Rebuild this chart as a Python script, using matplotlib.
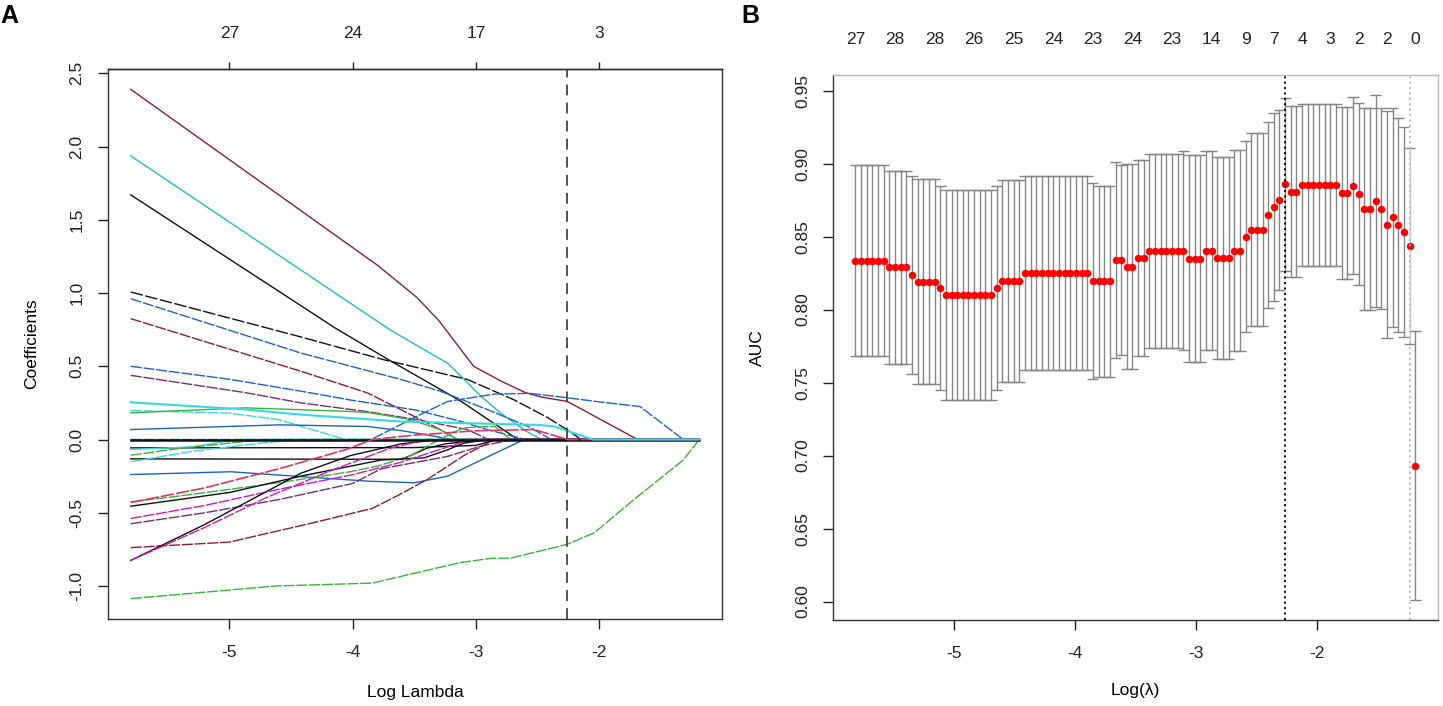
import matplotlib
matplotlib.use('Agg')
import matplotlib.pyplot as plt
import numpy as np

plt.rcParams['font.family'] = ['Liberation Sans', 'DejaVu Sans']
plt.rcParams['axes.unicode_minus'] = False

# ---------------- Panel A : coefficient paths (log lambda, coefficient) knots ----------------
loglam_first, loglam_last = -5.80, -1.19
xticks_A = [-5, -4, -3, -2]
top_labels_A = ['27', '24', '17', '3']
yticks_A = [2.5, 2.0, 1.5, 1.0, 0.5, 0.0, -0.5, -1.0]

p01 = [(-5.80, 2.39), (-3.80, 1.19), (-3.48, 0.97), (-3.30, 0.81), (-3.02, 0.50), (-2.80, 0.40),
       (-2.60, 0.32), (-2.47, 0.29), (-2.26, 0.26), (-1.69, 0.0)]
p02 = [(-5.80, 1.936), (-3.70, 0.75), (-3.23, 0.52), (-3.12, 0.43), (-2.96, 0.295), (-2.80, 0.18),
       (-2.60, 0.06), (-2.47, 0.0)]
p03 = [(-5.80, 1.67), (-4.14, 0.76), (-3.71, 0.545), (-3.12, 0.26), (-2.66, 0.0)]
p04 = [(-5.80, 1.007), (-4.42, 0.70), (-3.75, 0.545), (-3.07, 0.41), (-2.69, 0.27), (-2.42, 0.15),
       (-2.23, 0.05), (-2.15, 0.0)]
p05 = [(-5.80, 0.961), (-4.42, 0.59), (-3.61, 0.41), (-3.29, 0.33), (-2.91, 0.205), (-2.58, 0.09),
       (-2.39, 0.0)]
p06 = [(-5.80, 0.825), (-4.42, 0.466), (-3.88, 0.318), (-3.53, 0.17), (-3.29, 0.068), (-3.15, 0.0)]
p07 = [(-5.80, 0.50), (-4.99, 0.41), (-4.42, 0.33), (-4.02, 0.27), (-3.48, 0.20), (-3.12, 0.123),
       (-2.91, 0.068), (-2.60, 0.0)]
p08 = [(-5.80, 0.438), (-4.87, 0.32), (-4.42, 0.25), (-3.88, 0.19), (-3.48, 0.136), (-3.07, 0.068),
       (-2.90, 0.0)]
p09 = [(-5.80, 0.254), (-4.87, 0.205), (-4.42, 0.17), (-3.61, 0.123), (-3.00, 0.11), (-2.50, 0.10),
       (-2.37, 0.09), (-2.05, 0.0)]
p10 = [(-5.80, 0.198), (-5.00, 0.18), (-4.60, 0.136), (-4.30, 0.06), (-4.06, 0.0)]
p11 = [(-5.80, 0.182), (-4.87, 0.216), (-4.06, 0.193), (-3.88, 0.185), (-3.53, 0.136), (-3.30, 0.07),
       (-3.15, 0.0)]
p12 = [(-5.80, 0.068), (-4.60, 0.10), (-3.88, 0.089), (-3.60, 0.06), (-3.34, 0.023), (-3.20, 0.0)]
p13 = [(-5.80, -0.057), (-3.50, -0.055), (-3.00, -0.04), (-2.83, 0.0)]
p14 = [(-5.80, -0.068), (-5.30, -0.05), (-5.05, -0.015), (-4.87, 0.0)]
p15 = [(-5.80, -0.107), (-5.40, -0.06), (-4.95, -0.02), (-4.70, 0.0)]
p16 = [(-5.80, -0.132), (-3.60, -0.135), (-3.40, -0.06), (-3.25, -0.03), (-2.95, 0.0)]
p17 = [(-5.80, -0.152), (-5.30, -0.08), (-4.70, -0.02), (-4.40, 0.0)]
p18 = [(-5.80, -0.239), (-4.99, -0.22), (-3.88, -0.284), (-3.50, -0.295), (-3.23, -0.25),
       (-2.96, -0.14), (-2.61, 0.0)]
p19 = [(-5.80, -0.425), (-5.41, -0.386), (-4.60, -0.295), (-4.02, -0.22), (-3.79, -0.18),
       (-3.53, -0.11), (-3.30, 0.0), (-3.10, 0.08), (-2.85, 0.09), (-2.72, 0.0)]
p20 = [(-5.80, -0.455), (-5.41, -0.41), (-4.99, -0.36), (-4.42, -0.25), (-3.77, -0.14),
       (-3.42, -0.125), (-3.23, -0.07), (-3.10, -0.025), (-2.91, 0.0)]
p21 = [(-5.80, -0.539), (-5.20, -0.45), (-4.60, -0.34), (-4.00, -0.24), (-3.63, -0.16),
       (-3.30, -0.07), (-3.05, 0.0)]
p22 = [(-5.80, -0.575), (-5.20, -0.50), (-4.60, -0.41), (-4.00, -0.30), (-3.77, -0.20),
       (-3.23, -0.115), (-2.96, -0.045), (-2.70, 0.0)]
p23 = [(-5.80, -0.738), (-5.00, -0.70), (-4.33, -0.57), (-3.84, -0.47), (-3.63, -0.38),
       (-3.39, -0.27), (-3.10, -0.11), (-2.85, 0.0)]
p24 = [(-5.80, -0.825), (-5.20, -0.58), (-4.71, -0.36), (-4.42, -0.23), (-4.02, -0.11),
       (-3.61, -0.03), (-3.30, 0.0)]
p25 = [(-5.80, -0.825), (-5.20, -0.60), (-4.71, -0.40), (-4.20, -0.22), (-3.70, -0.06), (-3.40, 0.0)]
p26 = [(-5.80, -1.086), (-4.63, -1.00), (-3.84, -0.98), (-3.13, -0.84), (-2.87, -0.81),
       (-2.72, -0.81), (-2.26, -0.715), (-2.04, -0.636), (-1.72, -0.41), (-1.32, -0.14), (-1.19, 0.0)]
p27 = [(-5.80, 0.0), (-3.85, 0.0), (-3.50, 0.15), (-3.23, 0.26), (-2.85, 0.31), (-2.56, 0.315),
       (-2.26, 0.285), (-1.98, 0.255), (-1.67, 0.225), (-1.32, 0.0)]
p28 = [(-5.80, -0.43), (-5.20, -0.33), (-4.60, -0.20), (-4.06, -0.07), (-3.84, 0.0), (-3.50, 0.03),
       (-3.00, 0.06), (-2.53, 0.068), (-2.26, 0.0)]
p_zero = [(-5.80, 0.0), (-1.19, 0.0)]

# ---------------- Panel B : cross-validated AUC ----------------
loglam_B_range = (-5.81, -1.19)
n_lambda = 100
auc_mean = [
    0.8336, 0.8336, 0.8336, 0.8336, 0.8336, 0.8336, 0.8290, 0.8290, 0.8290, 0.8290,
    0.8238, 0.8192, 0.8192, 0.8192, 0.8192, 0.8149, 0.8100, 0.8100, 0.8100, 0.8100,
    0.8100, 0.8100, 0.8100, 0.8100, 0.8100, 0.8149, 0.8197, 0.8197, 0.8197, 0.8197,
    0.8250, 0.8250, 0.8250, 0.8250, 0.8250, 0.8250, 0.8250, 0.8250, 0.8250, 0.8250,
    0.8250, 0.8250, 0.8194, 0.8194, 0.8194, 0.8194, 0.8340, 0.8340, 0.8295, 0.8295,
    0.8354, 0.8354, 0.8404, 0.8404, 0.8404, 0.8404, 0.8404, 0.8404, 0.8404, 0.8349,
    0.8349, 0.8349, 0.8404, 0.8404, 0.8354, 0.8354, 0.8354, 0.8404, 0.8404, 0.8500,
    0.8548, 0.8548, 0.8548, 0.8649, 0.8703, 0.8749, 0.8858, 0.8808, 0.8808, 0.8856,
    0.8856, 0.8856, 0.8856, 0.8856, 0.8856, 0.8856, 0.8799, 0.8799, 0.8849, 0.8792,
    0.8690, 0.8690, 0.8745, 0.8692, 0.8583, 0.8632, 0.8583, 0.8532, 0.8435, 0.6932]
auc_se = [
    0.0652, 0.0652, 0.0652, 0.0652, 0.0652, 0.0652, 0.0663, 0.0663, 0.0663, 0.0663,
    0.0680, 0.0703, 0.0703, 0.0703, 0.0703, 0.0700, 0.0722, 0.0722, 0.0722, 0.0722,
    0.0722, 0.0722, 0.0722, 0.0722, 0.0722, 0.0700, 0.0690, 0.0690, 0.0690, 0.0690,
    0.0667, 0.0667, 0.0667, 0.0667, 0.0667, 0.0667, 0.0667, 0.0667, 0.0667, 0.0667,
    0.0667, 0.0667, 0.0670, 0.0655, 0.0655, 0.0655, 0.0674, 0.0650, 0.0700, 0.0700,
    0.0670, 0.0670, 0.0664, 0.0664, 0.0664, 0.0664, 0.0664, 0.0664, 0.0680, 0.0710,
    0.0710, 0.0710, 0.0682, 0.0682, 0.0690, 0.0690, 0.0690, 0.0688, 0.0688, 0.0654,
    0.0659, 0.0659, 0.0659, 0.0635, 0.0643, 0.0616, 0.0593, 0.0586, 0.0586, 0.0555,
    0.0555, 0.0555, 0.0555, 0.0555, 0.0555, 0.0555, 0.0592, 0.0592, 0.0606, 0.0625,
    0.0690, 0.0690, 0.0724, 0.0690, 0.0780, 0.0750, 0.0733, 0.0720, 0.0670, 0.0920]
nz_idx = [0, 7, 14, 21, 28, 35, 42, 49, 56, 63, 69, 74, 79, 84, 89, 94, 99]
nz_labels = ['27', '28', '28', '26', '25', '24', '23', '24', '23', '14', '9', '7', '4', '3', '2', '2', '0']
xticks_B = [-5, -4, -3, -2]
yticks_B = [0.60, 0.65, 0.70, 0.75, 0.80, 0.85, 0.90, 0.95]

# ---------------- colours ----------------
MAROON = '#8B1C46'
TURQ = '#1FBFC4'
LCYAN = '#3AD8E4'
BLACK = '#111111'
BLUE = '#1F63C2'
GREEN = '#3CB43C'
MAGENTA = '#C41DB8'
PURPLE = '#7B2C7A'
PINK = '#E5336A'
DASH = (0, (8, 1.2))
SOLID = '-'

styles_A = [
    (p01, MAROON, SOLID), (p02, TURQ, SOLID), (p03, BLACK, SOLID), (p04, BLACK, (0, (9, 1.8))),
    (p05, BLUE, DASH), (p06, MAROON, DASH), (p07, BLUE, DASH), (p08, PURPLE, DASH),
    (p10, LCYAN, DASH), (p11, GREEN, SOLID), (p12, BLUE, SOLID),
    (p13, BLACK, SOLID), (p14, LCYAN, SOLID), (p15, GREEN, DASH), (p16, BLACK, SOLID),
    (p17, LCYAN, DASH), (p18, BLUE, SOLID), (p19, GREEN, DASH), (p20, BLACK, SOLID),
    (p21, MAGENTA, DASH), (p22, PURPLE, DASH), (p23, MAROON, DASH), (p24, BLACK, SOLID),
    (p25, MAGENTA, DASH), (p26, GREEN, DASH), (p27, BLUE, DASH),
]

fig = plt.figure(figsize=(14.43, 7.06), dpi=100)
W, H = 1443.0, 706.0

def frac(x0, y0, x1, y1):
    return [x0 / W, 1 - y1 / H, (x1 - x0) / W, (y1 - y0) / H]

def pad_lim(lo, hi):
    d = (hi - lo) * 0.04
    return lo - d, hi + d

def full_path(path):
    xs = [p[0] for p in path]
    ys = [p[1] for p in path]
    if ys[-1] == 0.0 and xs[-1] < loglam_last:
        xs.append(loglam_last)
        ys.append(0.0)
    return xs, ys

# ---------- Panel A ----------
axA = fig.add_axes(frac(108, 69, 722, 619))
for path, col, ls in styles_A:
    xs, ys = full_path(path)
    axA.plot(xs, ys, color=col, ls=ls, lw=1.0)
xs, ys = full_path(p_zero)
axA.plot(xs, ys, color=BLACK, lw=1.8)
xs, ys = full_path(p28)
axA.plot(xs, ys, color=PINK, ls=DASH, lw=1.2)
xs, ys = full_path(p09)
axA.plot(xs, ys, color=LCYAN, ls=SOLID, lw=1.5)

all_c = [c for pth in [s[0] for s in styles_A] + [p09, p28] for _, c in pth]
axA.set_xlim(*pad_lim(loglam_first, loglam_last))
axA.set_ylim(*pad_lim(min(all_c), max(all_c)))

# ---------- Panel B ----------
axB = fig.add_axes(frac(833, 75, 1437.6, 620))
loglam_B = np.linspace(loglam_B_range[0], loglam_B_range[1], n_lambda)  # glmnet log-lambda grid
mean = np.array(auc_mean)
se = np.array(auc_se)
hi = mean + se
lo = mean - se
capw = 0.01 * (loglam_B.max() - loglam_B.min())
i_min = int(np.argmax(mean))
thr = mean[i_min] - se[i_min]
i_1se = int(max(i for i in range(n_lambda) if mean[i] >= thr))

bar_col = '#858585'
for i in range(n_lambda):
    c = '#C8C8C8' if i == i_1se else bar_col
    axB.vlines(loglam_B[i], lo[i], hi[i], colors=c, lw=1.0)
axB.hlines(hi, loglam_B - capw, loglam_B + capw, colors=bar_col, lw=1.0)
axB.hlines(lo, loglam_B - capw, loglam_B + capw, colors=bar_col, lw=1.0)
axB.plot(loglam_B, mean, 'o', color='#FF0000', ms=5.4, mew=0)
axB.axvline(loglam_B[i_min], color='black', ls=(0, (1.2, 1.8)), lw=1.3)
axB.axvline(loglam_B[i_1se], color='#BBBBBB', ls=(0, (1.2, 1.8)), lw=1.3)
axB.set_xlim(*pad_lim(loglam_B.min(), loglam_B.max()))
axB.set_ylim(*pad_lim(lo.min(), hi.max()))

# dashed lambda line in panel A (same lambda.min)
axA.axvline(loglam_B[i_min], color='#444444', ls=(0, (6, 4)), lw=1.3)

# ---------- axes styling ----------
for ax in (axA, axB):
    ax.tick_params(axis='both', direction='out', length=7, width=1.0, labelsize=12.5,
                   colors='#222222')
    ax.tick_params(axis='x', pad=12)
    for s in ax.spines.values():
        s.set_linewidth(1.0)
        s.set_color('#333333')

axA.set_xticks(xticks_A)
axA.set_xticklabels([str(v) for v in xticks_A])
axA.set_yticks(yticks_A)
axA.set_yticklabels([f'{v:.1f}' for v in yticks_A], rotation=90, va='center')
axA.tick_params(axis='y', pad=10)
secA = axA.secondary_xaxis('top')
secA.set_xticks(xticks_A)
secA.set_xticklabels(top_labels_A)
secA.tick_params(direction='out', length=5, width=1.0, labelsize=12.5, pad=15, colors='#222222')
secA.spines['top'].set_linewidth(1.0)

axB.set_xticks(xticks_B)
axB.set_xticklabels([str(v) for v in xticks_B])
axB.set_yticks(yticks_B)
axB.set_yticklabels([f'{v:.2f}' for v in yticks_B], rotation=90, va='center')
axB.tick_params(axis='y', pad=9)
axB.spines['top'].set_color('#BBBBBB')
axB.spines['right'].set_color('#BBBBBB')
secB = axB.secondary_xaxis('top')
secB.set_xticks(loglam_B[nz_idx])
secB.set_xticklabels(nz_labels)
secB.tick_params(length=0, labelsize=12.5, pad=20, colors='#222222')
secB.spines['top'].set_visible(False)

# ---------- texts ----------
fig.text(32 / W, 1 - 344 / H, 'Coefficients', rotation=90, ha='center', va='center', fontsize=12.5)
fig.text(415 / W, 1 - 693 / H, 'Log Lambda', ha='center', va='center', fontsize=12.5)
fig.text(757 / W, 1 - 348 / H, 'AUC', rotation=90, ha='center', va='center', fontsize=12.5)
fig.text(1135 / W, 1 - 690 / H, 'Log(λ)', ha='center', va='center', fontsize=12.5)
fig.text(0 / W, 1 - 4 / H, 'A', ha='left', va='top', fontsize=18, fontweight='bold')
fig.text(741 / W, 1 - 4 / H, 'B', ha='left', va='top', fontsize=18, fontweight='bold')

fig.savefig('out.png', dpi=100)
